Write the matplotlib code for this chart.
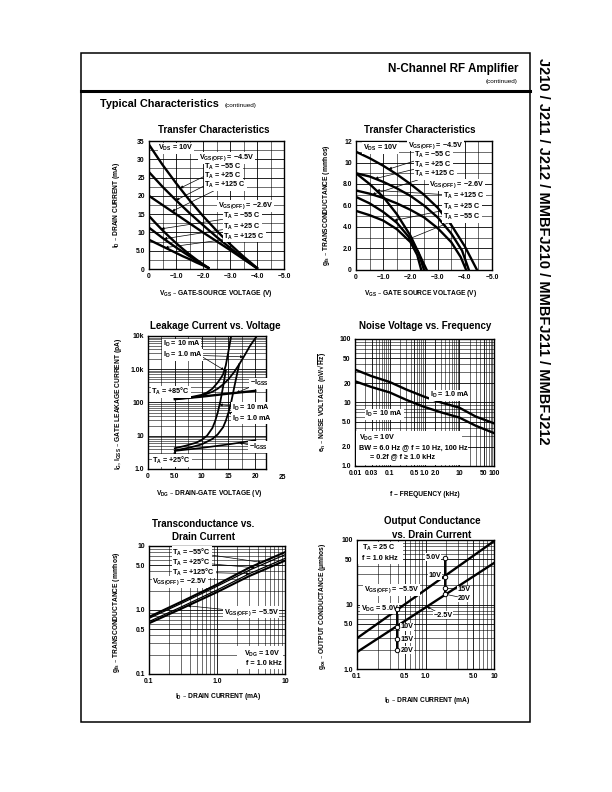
import numpy as np
import matplotlib
matplotlib.use('Agg')
import matplotlib.pyplot as plt
from matplotlib.lines import Line2D
from matplotlib.patches import Rectangle
from matplotlib.ticker import MultipleLocator, LogLocator, NullFormatter
from matplotlib.transforms import blended_transform_factory

plt.rcParams['font.family'] = ['Liberation Sans', 'DejaVu Sans']
plt.rcParams['font.weight'] = 'bold'
plt.rcParams['mathtext.default'] = 'regular'

# ---- Transfer characteristics: I_D (mA) vs V_GS (V)
vgs_45 = [0, -0.5, -1.0, -1.5, -2.0, -2.5, -3.0, -3.5, -4.0]
id_45_m55 = [34, 28.5, 23.5, 18.8, 14.5, 10.5, 6.8, 3.4, 0.3]
id_45_p25 = [26.5, 22.5, 18.8, 15.3, 12.0, 8.8, 5.8, 2.9, 0.2]
id_45_p125 = [20, 17.5, 15.0, 12.5, 10.0, 7.6, 5.2, 2.7, 0.2]
vgs_26 = [0, -0.25, -0.5, -0.75, -1.0, -1.25, -1.5, -1.75, -2.0, -2.2]
id_26_m55 = [14.5, 12.5, 10.6, 8.8, 7.1, 5.5, 4.0, 2.6, 1.3, 0.3]
id_26_p25 = [11.3, 9.9, 8.5, 7.2, 5.9, 4.7, 3.5, 2.3, 1.2, 0.3]
id_26_p125 = [8.0, 7.1, 6.2, 5.3, 4.4, 3.5, 2.7, 1.8, 1.0, 0.3]

# ---- Transfer characteristics: g_fs (mmhos) vs V_GS (V)
g45_m55_v = [0, -0.5, -1.0, -1.5, -2.0, -2.5, -3.0, -3.5, -4.0, -4.45]
g45_m55 = [11.0, 10.4, 9.7, 8.9, 8.0, 7.0, 5.8, 4.2, 2.2, 0]
g45_p25_v = [0, -0.5, -1.0, -1.5, -2.0, -2.5, -3.0, -3.5, -3.9, -4.15]
g45_p25 = [9.0, 8.7, 8.2, 7.6, 6.9, 6.0, 4.9, 3.4, 1.8, 0]
g45_p125_v = [0, -0.5, -1.0, -1.5, -2.0, -2.5, -3.0, -3.5, -3.85, -4.05]
g45_p125 = [7.4, 7.1, 6.7, 6.2, 5.6, 4.9, 3.9, 2.6, 1.2, 0]
g26_m55_v = [0, -0.5, -1.0, -1.5, -2.0, -2.3, -2.6]
g26_m55 = [9.0, 8.0, 6.8, 5.2, 3.2, 1.6, 0]
g26_p25_v = [0, -0.5, -1.0, -1.5, -2.0, -2.3, -2.5]
g26_p25 = [6.8, 6.2, 5.4, 4.4, 2.9, 1.6, 0]
g26_p125_v = [0, -0.5, -1.0, -1.5, -2.0, -2.25, -2.4]
g26_p125 = [5.5, 5.1, 4.6, 3.8, 2.6, 1.4, 0]

# ---- Leakage current (pA) vs V_DG (V)
vdg_igss = [5, 10, 15, 20]
igss_85 = [126, 150, 185, 224]
igss_25 = [3.5, 4.3, 5.5, 7.3]
id10_85_v = [5, 8, 10, 11, 12, 13, 13.5, 14, 14.5, 15, 15.5]
id10_85 = [130, 145, 170, 200, 260, 400, 520, 700, 1300, 3500, 10000]
id1_85_v = [5, 8, 10, 12, 13, 14, 15, 16, 17, 18, 19, 20.3]
id1_85 = [128, 140, 160, 210, 260, 350, 500, 800, 1400, 2600, 5000, 10000]
id10_25_v = [5, 7, 9, 10, 11, 12, 12.5, 13, 13.5, 14, 14.5]
id10_25 = [4.2, 5, 6.2, 7.5, 10, 17, 27, 50, 110, 300, 900]
id1_25_v = [5, 8, 10, 12, 13, 14, 14.5, 15, 15.5, 16, 16.5, 17]
id1_25 = [3.6, 4.5, 5.5, 8, 11, 18, 28, 50, 100, 250, 600, 1400]

# ---- Noise voltage (nV/rtHz) vs frequency (kHz)
f_khz = [0.01, 0.03, 0.1, 0.3, 1, 3, 10, 30, 100]
en_1ma = [33, 26, 21, 16, 12.3, 10, 8.3, 6.0, 4.7]
en_10ma = [21.6, 17.5, 14.4, 11, 8.5, 7, 5.8, 4.3, 3.3]

# ---- Transconductance (mmhos) vs I_D (mA)
id5 = [0.1, 0.3, 1.0, 3.0, 10.0]
gfs5_a = [0.78, 1.35, 2.5, 4.6, 8.0]
gfs5_b = [0.74, 1.27, 2.35, 4.2, 7.3]
gfs5_c = [0.66, 1.12, 2.05, 3.7, 6.4]
gfs5_d = [0.62, 1.05, 1.9, 3.4, 5.9]

# ---- Output conductance (umhos) vs I_D (mA)
id6 = [0.1, 10]
gos_55 = [3.0, 96]
gos_25 = [1.83, 44]
pt_lo_id = 0.38
pt_lo_g = [8.4, 4.5, 2.9, 1.95]
pt_hi_id = 1.9
pt_hi_g = [52, 27, 18, 14.5]

W, H = 612, 792
fig = plt.figure(figsize=(6.12, 7.92), dpi=100)


def box(l, t, r, b):
    return [l / W, 1 - b / H, (r - l) / W, (b - t) / H]


def ftext(x, y, s, **kw):
    kw.setdefault('ha', 'center')
    kw.setdefault('va', 'center')
    fig.text(x / W, 1 - y / H, s, **kw)


def on(xs, ys, x, log=False):
    xs = np.asarray(xs, float)
    ys = np.asarray(ys, float)
    if xs[0] > xs[-1]:
        xs, ys = xs[::-1], ys[::-1]
    if log:
        return x, 10 ** np.interp(np.log10(x), np.log10(xs), np.log10(ys))
    return x, np.interp(x, xs, ys)


WB = dict(fc='white', ec='none', pad=0.4)
FS = 5.2
TS = 7.0


def note(ax, s, xy, target=None, **kw):
    kw.setdefault('ha', 'left')
    kw.setdefault('va', 'center')
    if target is None:
        ax.text(xy[0], xy[1], s, fontsize=FS, bbox=WB, zorder=5, **kw)
    else:
        ax.annotate(s, xy=target, xytext=xy, fontsize=FS, bbox=WB, zorder=5,
                    arrowprops=dict(arrowstyle='-|>', lw=0.5, color='k',
                                    mutation_scale=4, shrinkA=0, shrinkB=0),
                    **kw)


def style(ax):
    for s in ax.spines.values():
        s.set_linewidth(1.0)
    ax.tick_params(which='both', length=0, labelsize=4.9, pad=3)
    ax.grid(which='major', color='k', lw=0.6)
    ax.grid(which='minor', color='k', lw=0.4)
    ax.set_axisbelow(True)


def logminor(axis):
    axis.set_minor_locator(LogLocator(base=10, subs=np.arange(2, 10)))
    axis.set_minor_formatter(NullFormatter())


CW = 1.7

# ---------------- Panel 1
ax1 = fig.add_axes(box(149, 141, 284, 269))
for v, y in [(vgs_45, id_45_m55), (vgs_45, id_45_p25), (vgs_45, id_45_p125),
             (vgs_26, id_26_m55), (vgs_26, id_26_p25), (vgs_26, id_26_p125)]:
    ax1.plot(v, y, color='k', lw=CW)
ax1.set_xlim(0, -5)
ax1.set_ylim(0, 35)
ax1.set_xticks([0, -1, -2, -3, -4, -5], ['0', '−1.0', '−2.0', '−3.0', '−4.0', '−5.0'])
ax1.set_yticks([0, 5, 10, 15, 20, 25, 30, 35], ['0', '5.0', '10', '15', '20', '25', '30', '35'])
ax1.xaxis.set_minor_locator(MultipleLocator(0.5))
ax1.yaxis.set_minor_locator(MultipleLocator(2.5))
style(ax1)
note(ax1, r'V$_{DS}$ = 10V', (-0.35, 33))
note(ax1, r'V$_{GS(OFF)}$ = −4.5V', (-1.85, 30.4))
note(ax1, r'T$_A$ = −55 C', (-2.05, 27.9), on(vgs_45, id_45_m55, -1.15))
note(ax1, r'T$_A$ = +25 C', (-2.05, 25.4), on(vgs_45, id_45_p25, -1.0))
note(ax1, r'T$_A$ = +125 C', (-2.05, 22.9), on(vgs_45, id_45_p125, -0.85))
note(ax1, r'V$_{GS(OFF)}$ = −2.6V', (-2.55, 17.3))
note(ax1, r'T$_A$ = −55 C', (-2.75, 14.4), on(vgs_26, id_26_m55, -0.45))
note(ax1, r'T$_A$ = +25 C', (-2.75, 11.6), on(vgs_26, id_26_p25, -0.55))
note(ax1, r'T$_A$ = +125 C', (-2.75, 8.8), on(vgs_26, id_26_p125, -0.6))
ftext(214, 130, 'Transfer Characteristics', fontsize=TS)
ftext(216, 293, r'V$_{GS}$ – GATE-SOURCE VOLTAGE (V)', fontsize=4.8)
ftext(117, 205, r'I$_D$ – DRAIN CURRENT (mA)', fontsize=4.8, rotation=90)

# ---------------- Panel 2
ax2 = fig.add_axes(box(356, 141, 492, 270))
for v, y in [(g45_m55_v, g45_m55), (g45_p25_v, g45_p25), (g45_p125_v, g45_p125),
             (g26_m55_v, g26_m55), (g26_p25_v, g26_p25), (g26_p125_v, g26_p125)]:
    ax2.plot(v, y, color='k', lw=CW)
ax2.set_xlim(0, -5)
ax2.set_ylim(0, 12)
ax2.set_xticks([0, -1, -2, -3, -4, -5], ['0', '−1.0', '−2.0', '−3.0', '−4.0', '−5.0'])
ax2.set_yticks([0, 2, 4, 6, 8, 10, 12], ['0', '2.0', '4.0', '6.0', '8.0', '10', '12'])
ax2.xaxis.set_minor_locator(MultipleLocator(0.5))
ax2.yaxis.set_minor_locator(MultipleLocator(1.0))
style(ax2)
note(ax2, r'V$_{DS}$ = 10V', (-0.25, 11.35))
note(ax2, r'V$_{GS(OFF)}$ = −4.5V', (-1.9, 11.6))
note(ax2, r'T$_A$ = −55 C', (-2.15, 10.7), on(g45_m55_v, g45_m55, -1.2))
note(ax2, r'T$_A$ = +25 C', (-2.15, 9.8), on(g45_p25_v, g45_p25, -0.7))
note(ax2, r'T$_A$ = +125 C', (-2.15, 8.9), on(g45_p125_v, g45_p125, -0.6))
note(ax2, r'V$_{GS(OFF)}$ = −2.6V', (-2.7, 7.9))
note(ax2, r'T$_A$ = +125 C', (-3.2, 6.9), on(g26_m55_v, g26_m55, -0.75))
note(ax2, r'T$_A$ = +25 C', (-3.2, 5.9), on(g26_p25_v, g26_p25, -1.4))
note(ax2, r'T$_A$ = −55 C', (-3.2, 4.9), on(g26_p125_v, g26_p125, -1.9))
ftext(420, 130, 'Transfer Characteristics', fontsize=TS)
ftext(421, 293, r'V$_{GS}$ – GATE SOURCE VOLTAGE (V)', fontsize=4.8)
ftext(326, 205, r'g$_{fs}$ – TRANSCONDUCTANCE (mmhos)', fontsize=4.8, rotation=90)

# ---------------- Panel 3
ax3 = fig.add_axes(box(148, 336, 266, 469))
ax3.set_yscale('log')
ax3.plot(vdg_igss, igss_85, color='k', lw=CW)
ax3.plot(vdg_igss, igss_25, color='k', lw=1.2)
for v, y in [(id10_85_v, id10_85), (id1_85_v, id1_85), (id10_25_v, id10_25), (id1_25_v, id1_25)]:
    ax3.plot(v, y, color='k', lw=1.3)
ax3.set_xlim(0, 22)
ax3.set_ylim(1, 1e4)
ax3.set_xticks([0, 5, 10, 15, 20], ['0', '5.0', '10', '15', '20'])
ax3.set_yticks([1, 10, 100, 1000, 10000], ['1.0', '10', '100', '1.0k', '10k'])
ax3.xaxis.set_minor_locator(MultipleLocator(2.5))
logminor(ax3.yaxis)
style(ax3)
ax3.text(25, -0.035, '25', fontsize=4.9, ha='center', va='top', clip_on=False,
         transform=blended_transform_factory(ax3.transData, ax3.transAxes))
note(ax3, r'I$_D$ = 10 mA', (2.8, 5600), on(id10_85_v, id10_85, 14.2))
note(ax3, r'I$_D$ = 1.0 mA', (2.8, 2700), on(id1_85_v, id1_85, 17.8))
note(ax3, r'T$_A$ = +85°C', (0.6, 210))
note(ax3, r'−I$_{GSS}$', (19.0, 380), on(vdg_igss, igss_85, 16.5))
note(ax3, r'I$_D$ = 10 mA', (15.6, 70), on(id10_25_v, id10_25, 13.3))
note(ax3, r'I$_D$ = 1.0 mA', (15.6, 33), on(id1_25_v, id1_25, 15.0))
note(ax3, r'−I$_{GSS}$', (18.8, 4.6), on(vdg_igss, igss_25, 17.0))
note(ax3, r'T$_A$ = +25°C', (0.8, 1.8), on(vdg_igss, igss_25, 5.2))
ftext(215, 326, 'Leakage Current vs. Voltage', fontsize=TS)
ftext(209, 493, r'V$_{DG}$ – DRAIN-GATE VOLTAGE (V)', fontsize=4.8)
ftext(118, 404, r'I$_G$, I$_{GSS}$ – GATE LEAKAGE CURRENT (pA)', fontsize=4.8, rotation=90)

# ---------------- Panel 4
ax4 = fig.add_axes(box(355, 339, 494, 466))
ax4.set_xscale('log')
ax4.set_yscale('log')
ax4.plot(f_khz, en_1ma, color='k', lw=CW)
ax4.plot(f_khz, en_10ma, color='k', lw=CW)
ax4.set_xlim(0.01, 100)
ax4.set_ylim(1, 100)
ax4.set_xticks([0.01, 0.03, 0.1, 0.5, 1, 2, 10, 50, 100],
               ['0.01', '0.03', '0.1', '0.5', '1.0', '2.0', '10', '50', '100'])
ax4.set_yticks([1, 2, 5, 10, 20, 50, 100], ['1.0', '2.0', '5.0', '10', '20', '50', '100'])
logminor(ax4.xaxis)
logminor(ax4.yaxis)
style(ax4)
note(ax4, r'I$_D$ = 1.0 mA', (1.4, 13))
note(ax4, r'I$_D$ = 10 mA', (0.02, 6.5))
ax4.add_patch(Rectangle((0.0105, 1.05), 12, 2.45, fc='white', ec='none', zorder=4))
note(ax4, r'V$_{DG}$ = 10V', (0.013, 2.8))
note(ax4, r'BW = 6.0 Hz @ f = 10 Hz, 100 Hz', (0.013, 1.95))
note(ax4, r'= 0.2f @ f ≥ 1.0 kHz', (0.027, 1.38))
ftext(425, 326, 'Noise Voltage vs. Frequency', fontsize=TS)
ftext(425, 494, 'f – FREQUENCY (kHz)', fontsize=4.8)
ftext(323, 402, r'e$_n$ – NOISE VOLTAGE (nV/$\sqrt{Hz}$)', fontsize=4.8, rotation=90)

# ---------------- Panel 5
ax5 = fig.add_axes(box(149, 546, 285, 674))
ax5.set_xscale('log')
ax5.set_yscale('log')
for y, lw in [(gfs5_a, 1.5), (gfs5_b, 0.9), (gfs5_c, 0.9), (gfs5_d, 1.5)]:
    ax5.plot(id5, y, color='k', lw=lw)
ax5.set_xlim(0.1, 10)
ax5.set_ylim(0.1, 10)
ax5.set_xticks([0.1, 1, 10], ['0.1', '1.0', '10'])
ax5.set_yticks([0.1, 0.5, 1, 5, 10], ['0.1', '0.5', '1.0', '5.0', '10'])
logminor(ax5.xaxis)
logminor(ax5.yaxis)
style(ax5)
note(ax5, r'T$_A$ = −55°C', (0.22, 8.0), on(id5, gfs5_a, 4.5, log=True))
note(ax5, r'T$_A$ = +25°C', (0.22, 5.6), on(id5, gfs5_b, 3.6, log=True))
note(ax5, r'T$_A$ = +125°C', (0.22, 3.9), on(id5, gfs5_c, 3.0, log=True))
note(ax5, r'V$_{GS(OFF)}$ = −2.5V', (0.112, 2.75))
note(ax5, r'V$_{GS(OFF)}$ = −5.5V', (1.25, 0.92), on(id5, gfs5_d, 0.37, log=True))
ax5.add_patch(Rectangle((2.0, 0.12), 7.5, 0.15, fc='white', ec='none', zorder=4))
note(ax5, r'V$_{DG}$ = 10V', (2.5, 0.205))
note(ax5, 'f = 1.0 kHz', (2.7, 0.145))
ftext(203, 524, 'Transconductance vs.', fontsize=TS)
ftext(203, 537, 'Drain Current', fontsize=TS)
ftext(218, 697, r'I$_D$ – DRAIN CURRENT (mA)', fontsize=4.8)
ftext(116, 612, r'g$_{fs}$ – TRANSCONDUCTANCE (mmhos)', fontsize=4.8, rotation=90)

# ---------------- Panel 6
ax6 = fig.add_axes(box(357, 540, 494, 669))
ax6.set_xscale('log')
ax6.set_yscale('log')
ax6.plot(id6, gos_55, color='k', lw=CW)
ax6.plot(id6, gos_25, color='k', lw=CW)
for xi, gs in [(pt_lo_id, pt_lo_g), (pt_hi_id, pt_hi_g)]:
    ax6.plot([xi] * len(gs), gs, color='k', lw=1.4, marker='o', ms=3.2,
             mfc='white', mec='k', mew=0.7, zorder=6)
ax6.set_xlim(0.1, 10)
ax6.set_ylim(1, 100)
ax6.set_xticks([0.1, 0.5, 1, 5, 10], ['0.1', '0.5', '1.0', '5.0', '10'])
ax6.set_yticks([1, 5, 10, 50, 100], ['1.0', '5.0', '10', '50', '100'])
logminor(ax6.xaxis)
logminor(ax6.yaxis)
style(ax6)
ax6.add_patch(Rectangle((0.105, 42), 0.36, 50, fc='white', ec='none', zorder=4))
note(ax6, r'T$_A$ = 25 C', (0.12, 76))
note(ax6, 'f = 1.0 kHz', (0.12, 52))
note(ax6, '5.0V', (1.0, 54))
note(ax6, '10V', (1.12, 28))
note(ax6, r'V$_{GS(OFF)}$ = −5.5V', (0.125, 17))
note(ax6, '15V', (2.9, 17), (pt_hi_id, pt_hi_g[2]))
note(ax6, '20V', (3.0, 12.5), (pt_hi_id, pt_hi_g[3]))
note(ax6, r'V$_{DG}$ = 5.0V', (0.113, 8.6))
note(ax6, '−2.5V', (1.3, 6.8), on(id6, gos_25, 1.05, log=True))
note(ax6, '10V', (0.43, 4.5))
note(ax6, '15V', (0.43, 2.9))
note(ax6, '20V', (0.43, 1.95))
ftext(432, 521, 'Output Conductance', fontsize=TS)
ftext(432, 535, 'vs. Drain Current', fontsize=TS)
ftext(427, 700, r'I$_D$ – DRAIN CURRENT (mA)', fontsize=4.8)
ftext(323, 606, r'g$_{os}$ – OUTPUT CONDUCTANCE (μmhos)', fontsize=4.8, rotation=90)

# ---------------- page frame and headings
fig.add_artist(Rectangle((81 / W, 1 - 722 / H), (530 - 81) / W, (722 - 53) / H,
                         fill=False, lw=1.1, ec='k', transform=fig.transFigure))
fig.add_artist(Line2D([81 / W, 530 / W], [1 - 91 / H] * 2, lw=2.2, color='k',
                      transform=fig.transFigure))
ftext(518, 69, 'N-Channel RF Amplifier', fontsize=8.4, ha='right')
ftext(518, 81, '(continued)', fontsize=4.6, ha='right', fontweight='normal')
ftext(100, 104, 'Typical Characteristics', fontsize=7.8, ha='left')
ftext(225, 105, '(continued)', fontsize=4.6, ha='left', fontweight='normal')
ftext(543, 58, 'J210 / J211 / J212 / MMBFJ210 / MMBFJ211 / MMBFJ212',
      fontsize=10.5, rotation=270, va='top')

fig.savefig('out.png', dpi=100)
